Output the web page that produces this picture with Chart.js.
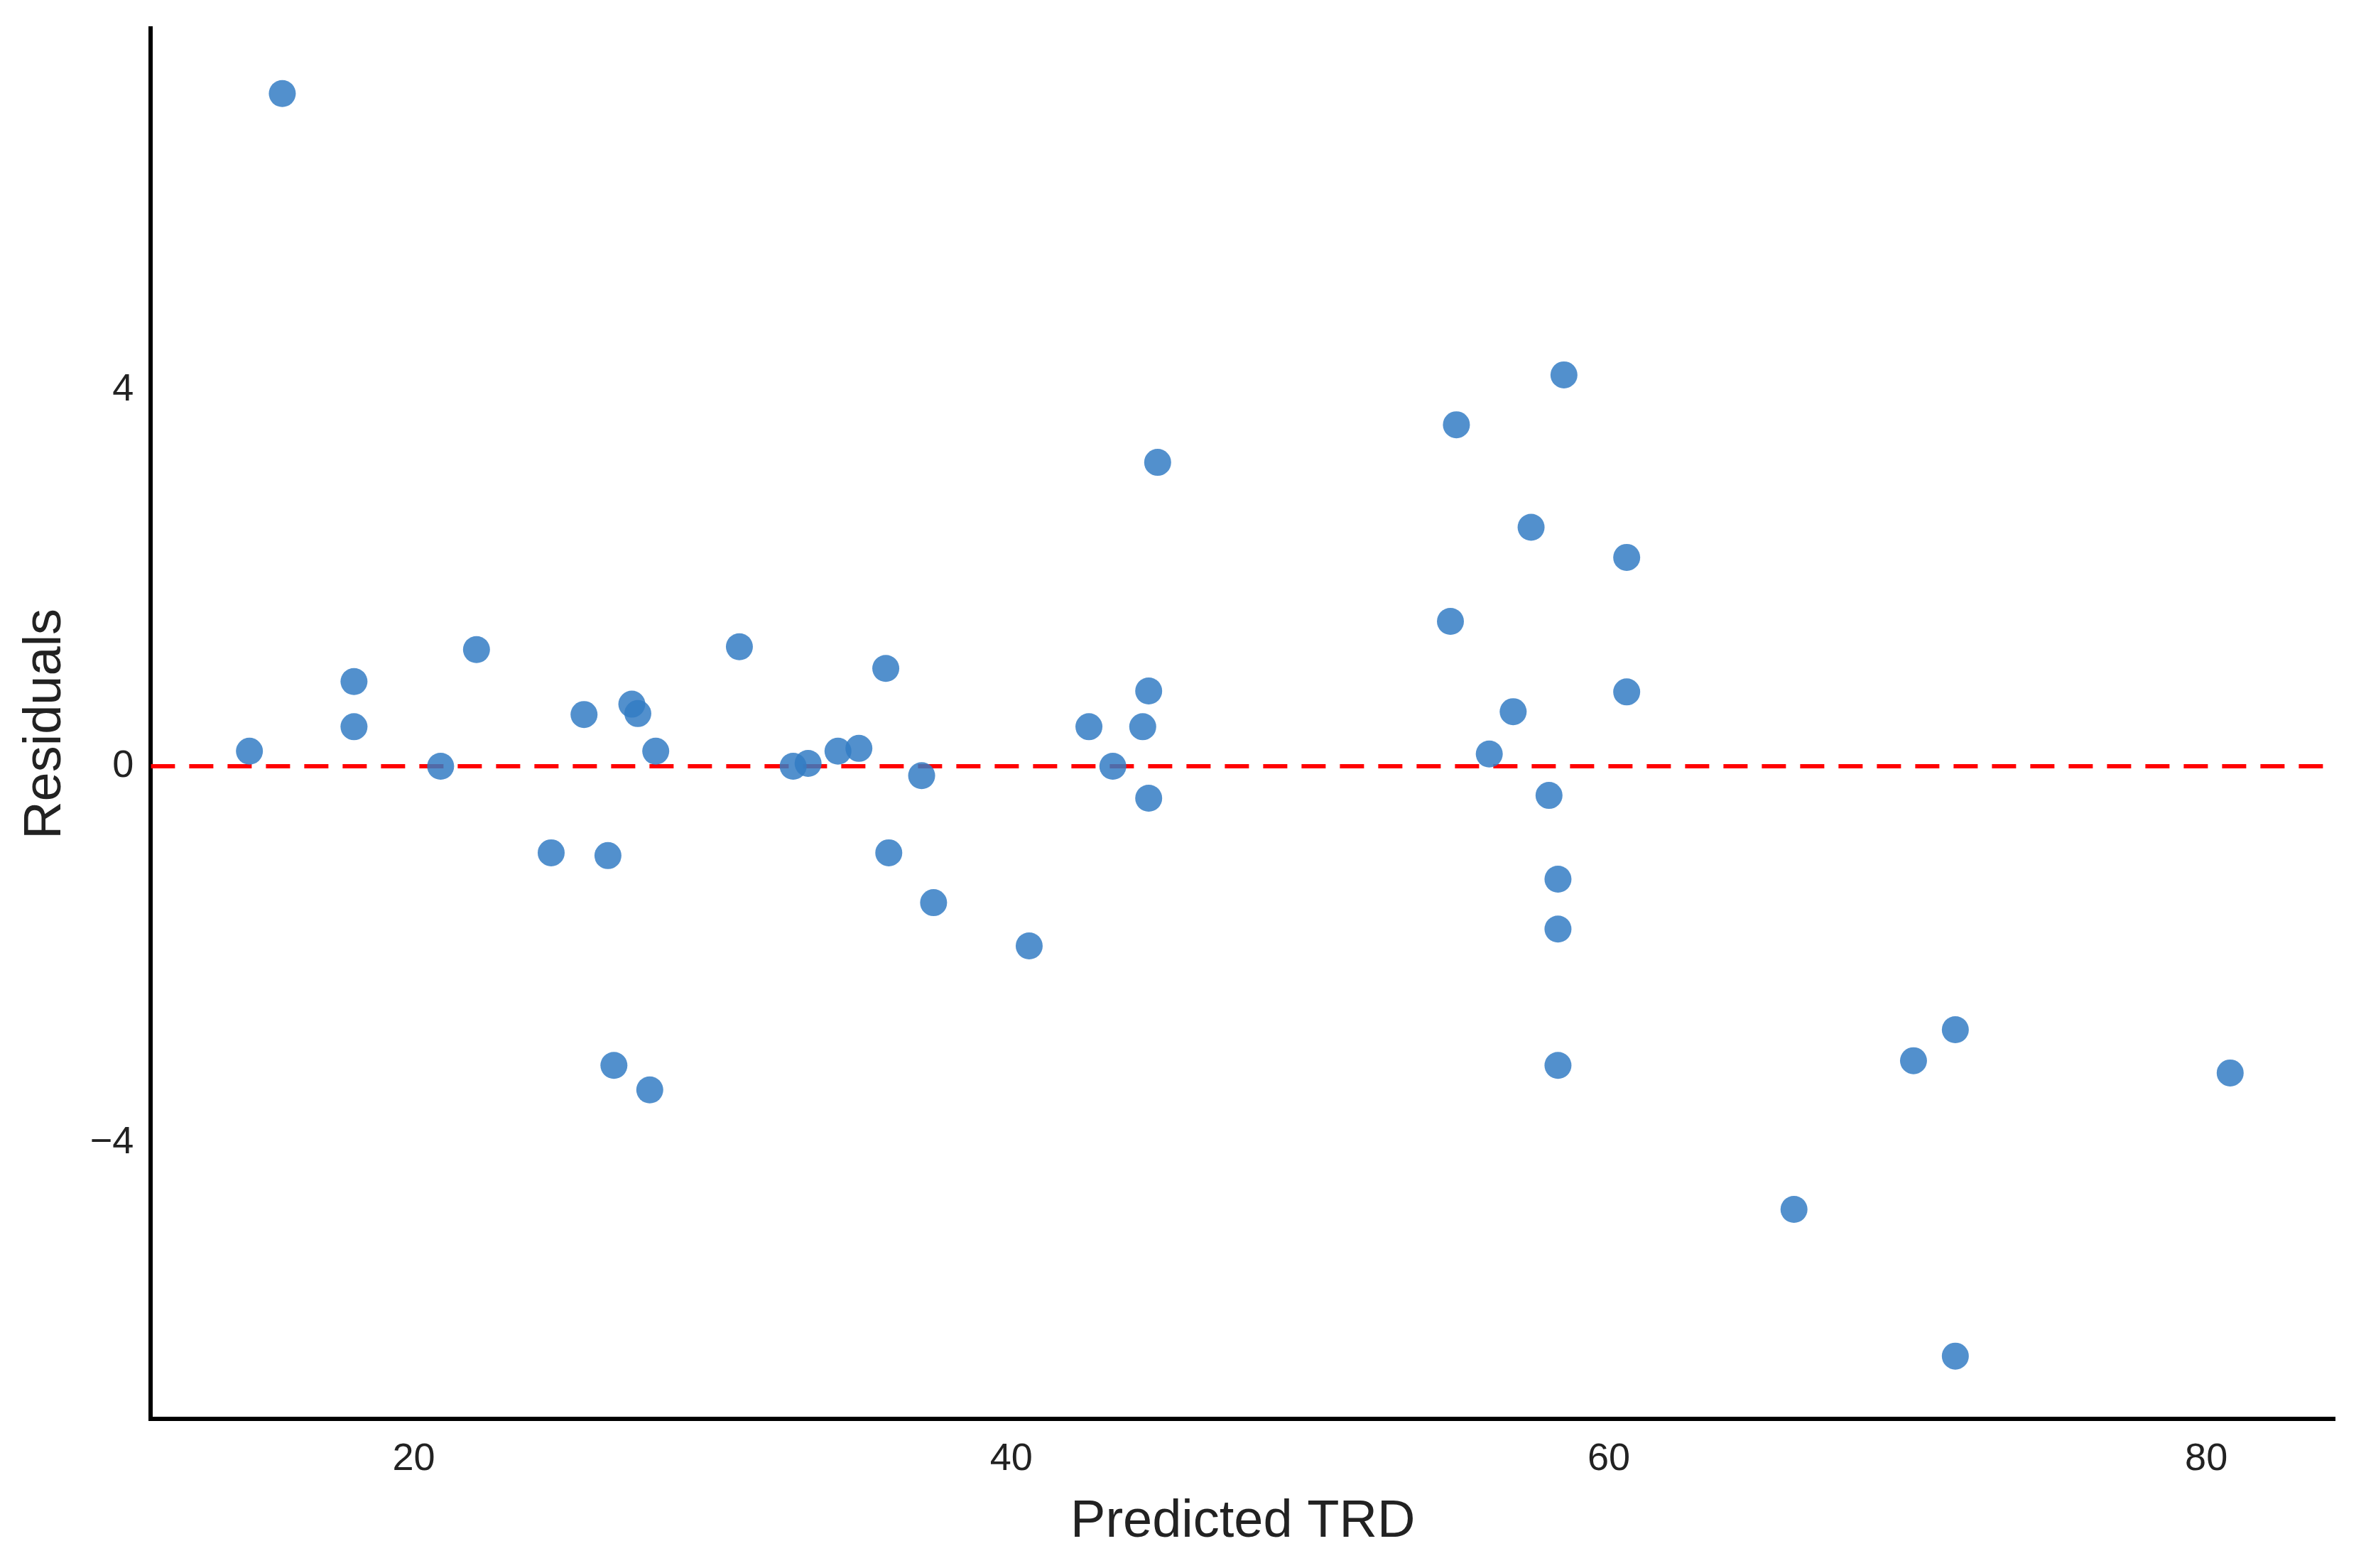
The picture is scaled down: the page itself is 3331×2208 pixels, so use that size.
<!DOCTYPE html>
<html>
<head>
<meta charset="utf-8">
<script src="https://cdn.jsdelivr.net/npm/chart.js@4.4.1/dist/chart.umd.min.js"></script>
<style>
  html, body { margin: 0; padding: 0; background: #fff; }
  #wrap { width: 3331px; height: 2208px; }
</style>
</head>
<body>
<div id="wrap"><canvas id="c" width="3331" height="2208"></canvas></div>
<script>
var predicted = [15.6, 14.5, 18.0, 18.0, 20.9, 22.1, 24.6, 25.7, 26.5, 26.7, 27.3, 27.5, 27.9, 28.1,
  30.9, 32.7, 33.2, 34.2, 34.9, 35.8, 35.9, 37.0, 37.4, 40.6, 42.6, 43.4, 44.4, 44.6, 44.6, 44.9,
  54.7, 54.9, 56.0, 56.8, 57.4, 58.0, 58.3, 58.3, 58.3, 58.5, 60.6, 60.6, 66.2, 70.2, 71.6, 71.6, 80.8];
var residuals = [7.15, 0.16, 0.90, 0.42, 0.00, 1.24, -0.92, 0.55, -0.95, -3.18, 0.66, 0.56, -3.44, 0.16,
  1.27, 0.00, 0.03, 0.16, 0.19, 1.04, -0.92, -0.10, -1.45, -1.91, 0.42, 0.00, 0.42, 0.80, -0.34, 3.23,
  1.54, 3.63, 0.13, 0.58, 2.54, -0.31, -1.20, -1.73, -3.18, 4.16, 2.22, 0.79, -4.71, -3.13, -2.80, -6.27, -3.26];
var xTicks = [20, 40, 60, 80];
var yTicks = [-4, 0, 4];
var xRange = [11.2, 84.3];
var yRange = [-6.94, 7.84];

var points = predicted.map(function (x, i) { return { x: x, y: residuals[i] }; });
var zeroLine = [{ x: xRange[0], y: 0 }, { x: xRange[1], y: 0 }];

var tickFont = { family: 'Liberation Sans', size: 54 };

new Chart(document.getElementById('c').getContext('2d'), {
  type: 'scatter',
  data: { datasets: [
    { data: zeroLine, type: 'line', borderColor: '#ff0000', borderWidth: 6,
      borderDash: [34, 20], pointRadius: 0, fill: false, order: 2 },
    { data: points, backgroundColor: 'rgba(52,125,196,0.85)', borderColor: 'rgba(52,125,196,0.85)',
      borderWidth: 0, pointRadius: 19, order: 1 }
  ]},
  options: {
    responsive: false, animation: false,
    layout: { padding: { left: 20, right: 44, top: 38, bottom: 20 } },
    plugins: { legend: { display: false }, tooltip: { enabled: false } },
    scales: {
      x: {
        type: 'linear', min: xRange[0], max: xRange[1],
        afterBuildTicks: function (a) { a.ticks = xTicks.map(function (v) { return { value: v }; }); },
        grid: { display: false, drawOnChartArea: false, drawTicks: true, tickLength: 16, tickWidth: 5, tickColor: '#000' },
        border: { display: true, color: '#000', width: 6 },
        ticks: { color: '#222', font: tickFont, padding: 8, maxRotation: 0 },
        title: { display: true, text: 'Predicted TRD', color: '#222',
          font: { family: 'Liberation Sans', size: 74 }, padding: { top: 4, bottom: 0 } }
      },
      y: {
        type: 'linear', min: yRange[0], max: yRange[1],
        afterBuildTicks: function (a) { a.ticks = yTicks.map(function (v) { return { value: v }; }); },
        grid: { display: false, drawOnChartArea: false, drawTicks: true, tickLength: 16, tickWidth: 5, tickColor: '#000' },
        border: { display: true, color: '#000', width: 6 },
        ticks: { color: '#222', font: tickFont, padding: 8,
          callback: function (v) { return v < 0 ? '\u2212' + Math.abs(v) : String(v); } },
        title: { display: true, text: 'Residuals', color: '#222',
          font: { family: 'Liberation Sans', size: 74 }, padding: { top: 0, bottom: 10 } }
      }
    }
  }
});
</script>
</body>
</html>
